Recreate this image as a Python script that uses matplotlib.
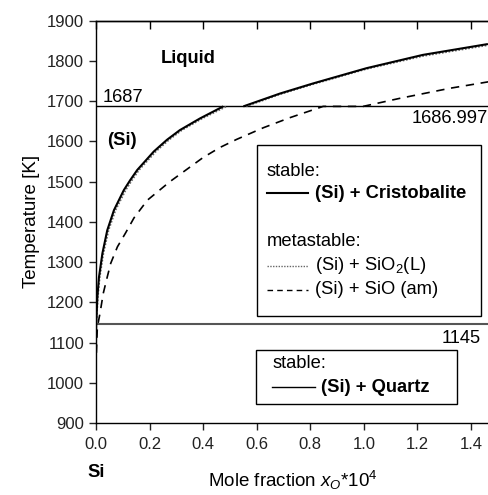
import numpy as np
import matplotlib
matplotlib.use('Agg')
import matplotlib.pyplot as plt
from matplotlib.patches import Rectangle
from matplotlib.lines import Line2D

plt.rcParams['font.family'] = ['Liberation Sans', 'DejaVu Sans']
plt.rcParams['mathtext.fontset'] = 'custom'
plt.rcParams['mathtext.rm'] = 'Liberation Sans'
plt.rcParams['mathtext.it'] = 'Liberation Sans:italic'
plt.rcParams['mathtext.bf'] = 'Liberation Sans:bold'

# --- Data ---
# (Si) + Cristobalite (stable): solubility in (Si) below 1687 K, liquidus above
x_cristo_sol = [0.0, 0.002, 0.005, 0.011, 0.024, 0.042, 0.067, 0.104, 0.127, 0.154,
                0.216, 0.265, 0.313, 0.388, 0.475]
T_cristo_sol = [1145, 1163, 1212, 1262, 1322, 1379, 1429, 1479, 1503, 1529,
                1575, 1604, 1628, 1657, 1687]
x_cristo_liq = [0.55, 0.687, 0.81, 0.91, 1.01, 1.22, 1.463]
T_cristo_liq = [1687, 1719, 1744, 1763, 1782, 1815, 1842]

# (Si) + SiO2(L) (metastable)
x_sio2l_sol = [0.0, 0.003, 0.007, 0.014, 0.028, 0.047, 0.073, 0.111, 0.134, 0.161,
               0.224, 0.273, 0.321, 0.397, 0.488]
T_sio2l_sol = [1145, 1163, 1212, 1262, 1322, 1379, 1429, 1479, 1503, 1529,
               1575, 1604, 1628, 1657, 1687]
x_sio2l_liq = [0.56, 0.687, 0.81, 0.91, 1.01, 1.22, 1.463]
T_sio2l_liq = [1687, 1717, 1742, 1761, 1780, 1812, 1839]

# (Si) + SiO (am) (metastable)
x_sioam = [0.0, 0.0, 0.005, 0.015, 0.027, 0.042, 0.055, 0.08, 0.11, 0.142,
           0.192, 0.276, 0.40, 0.463, 0.525, 0.625, 0.724, 0.848, 0.997,
           1.134, 1.321, 1.464]
T_sioam = [1000, 1048, 1138, 1173, 1222, 1263, 1297, 1338, 1372, 1410,
           1454, 1500, 1560, 1585, 1605, 1634, 1659, 1687, 1687,
           1707, 1732, 1748]

# (Si) + Quartz (stable)
x_quartz = [0.0, 0.001, 0.002]
T_quartz = [1000, 1080, 1145]

T_si_melt = 1687
T_quartz_cristo = 1145

x_ticks = [0.0, 0.2, 0.4, 0.6, 0.8, 1.0, 1.2, 1.4]
y_ticks = [900, 1000, 1100, 1200, 1300, 1400, 1500, 1600, 1700, 1800, 1900]

FS = 13.2   # annotation / legend text
FS_LAB = 13.5

# --- Figure ---
fig = plt.figure(figsize=(4.89, 4.95), dpi=100)
ax = fig.add_axes([96 / 489, 1 - 423 / 495, 393 / 489, 402.3 / 495])

ax.axhline(T_si_melt, color='black', lw=1.0)
ax.axhline(T_quartz_cristo, color='#555555', lw=1.5)

for xs, ts in [(x_sio2l_sol, T_sio2l_sol), (x_sio2l_liq, T_sio2l_liq)]:
    ax.plot(xs, ts, color='#666666', lw=1.2, linestyle=(0, (1, 1)))
for xs, ts in [(x_cristo_sol, T_cristo_sol), (x_cristo_liq, T_cristo_liq)]:
    ax.plot(xs, ts, color='black', lw=1.5, solid_capstyle='butt')
ax.plot(x_sioam, T_sioam, color='black', lw=1.2, linestyle=(0, (5, 4)))
ax.plot(x_quartz, T_quartz, color='black', lw=1.0)

ax.set_xlim(0, 1.467)
ax.set_ylim(900, 1900)
ax.set_xticks(x_ticks)
ax.set_xticklabels([f"{v:.1f}" for v in x_ticks])
ax.set_yticks(y_ticks)
ax.tick_params(axis='both', direction='out', length=5, width=1, labelsize=12,
               colors='#222222')
ax.tick_params(axis='x', pad=5)
ax.spines['right'].set_visible(False)
for s in ['left', 'bottom', 'top']:
    ax.spines[s].set_linewidth(1.0)

top = ax.secondary_xaxis('top')
top.set_xticks(x_ticks)
top.tick_params(direction='in', length=6, width=1, labeltop=False)
top.spines['top'].set_linewidth(1.0)

ax.set_ylabel('Temperature [K]', fontsize=FS_LAB, labelpad=5)
ax.set_xlabel(r'Mole fraction $x_O$*10$^4$', fontsize=FS_LAB, labelpad=12)

# region / line labels
ax.text(0.24, 1806, 'Liquid', fontsize=FS, fontweight='bold', ha='left', va='center')
ax.text(0.04, 1601, '(Si)', fontsize=FS, fontweight='bold', ha='left', va='center')
ax.text(0.0, 776, 'Si', fontsize=FS, fontweight='bold', ha='center', va='center',
        clip_on=False)
ax.text(0.026, 1710, '1687', fontsize=FS, ha='left', va='center')
ax.text(1.462, 1658, '1686.997', fontsize=FS, ha='right', va='center')
ax.text(1.435, 1111, '1145', fontsize=FS, ha='right', va='center')

# legend box 1
ax.add_patch(Rectangle((0.410, 0.266), 0.570, 0.425, transform=ax.transAxes,
                       facecolor='white', edgecolor='black', lw=1.0, zorder=5))
ax.text(0.435, 0.626, 'stable:', transform=ax.transAxes, fontsize=FS,
        va='center', ha='left', zorder=6)
ax.add_line(Line2D([0.435, 0.539], [0.571, 0.571], transform=ax.transAxes,
                   color='black', lw=1.5, zorder=6))
ax.text(0.557, 0.571, '(Si) + Cristobalite', transform=ax.transAxes, fontsize=FS,
        fontweight='bold', va='center', ha='left', zorder=6)
ax.text(0.435, 0.452, 'metastable:', transform=ax.transAxes, fontsize=FS,
        va='center', ha='left', zorder=6)
ax.add_line(Line2D([0.435, 0.539], [0.391, 0.391], transform=ax.transAxes,
                   color='#666666', lw=1.0, linestyle=(0, (1, 1)), zorder=6))
ax.text(0.557, 0.391, r'(Si) + SiO$_2$(L)', transform=ax.transAxes, fontsize=FS,
        va='center', ha='left', zorder=6)
ax.add_line(Line2D([0.435, 0.539], [0.331, 0.331], transform=ax.transAxes,
                   color='black', lw=1.0, linestyle=(0, (4, 3)), zorder=6))
ax.text(0.557, 0.331, '(Si) + SiO (am)', transform=ax.transAxes, fontsize=FS,
        va='center', ha='left', zorder=6)

# legend box 2
ax.add_patch(Rectangle((0.407, 0.047), 0.511, 0.134, transform=ax.transAxes,
                       facecolor='white', edgecolor='black', lw=1.0, zorder=5))
ax.text(0.448, 0.147, 'stable:', transform=ax.transAxes, fontsize=FS,
        va='center', ha='left', zorder=6)
ax.add_line(Line2D([0.448, 0.557], [0.089, 0.089], transform=ax.transAxes,
                   color='black', lw=1.0, zorder=6))
ax.text(0.573, 0.089, '(Si) + Quartz', transform=ax.transAxes, fontsize=FS,
        fontweight='bold', va='center', ha='left', zorder=6)

fig.savefig('out.png', dpi=100)
